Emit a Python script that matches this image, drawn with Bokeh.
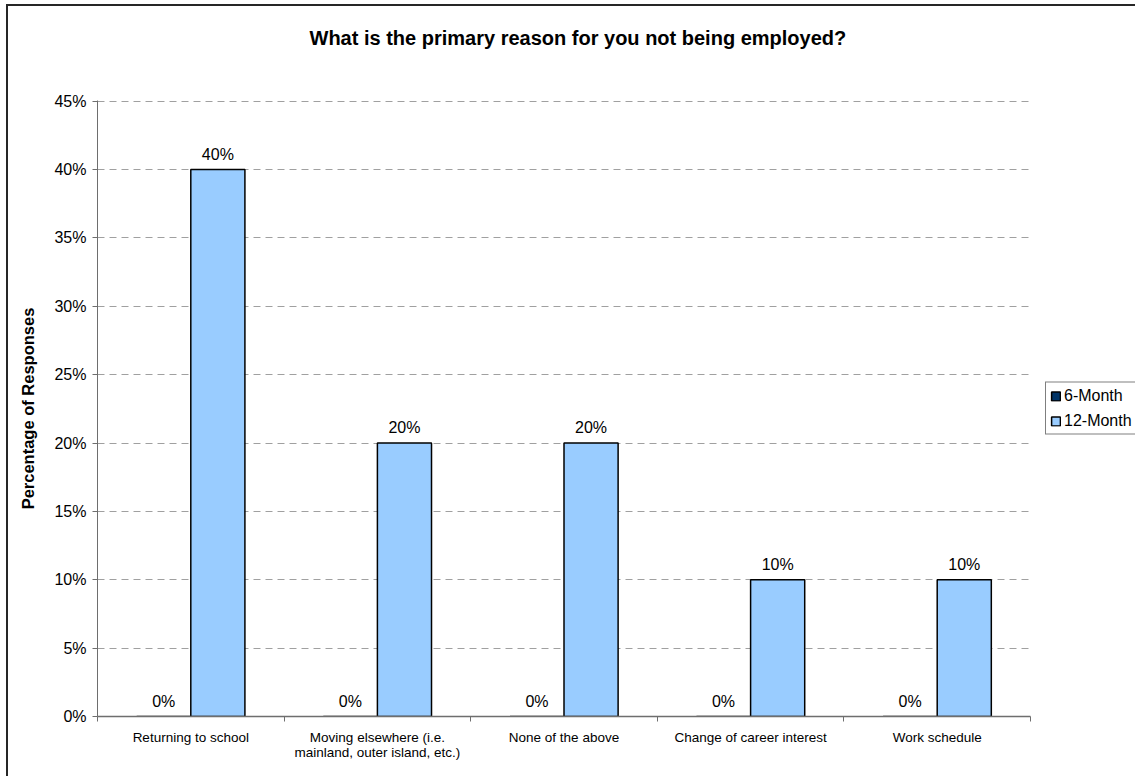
from bokeh.plotting import figure
from bokeh.models import (ColumnDataSource, FixedTicker, PrintfTickFormatter, Legend,
                          LegendItem, LabelSet, Range1d, LinearAxis)
from bokeh.core.properties import value
from bokeh.embed import file_html
from bokeh.resources import INLINE

# ---- data ----
title_text = "What is the primary reason for you not being employed?"
y_axis_label = "Percentage of Responses"
categories = [
    "Returning to school",
    "Moving elsewhere (i.e.\nmainland, outer island, etc.)",
    "None of the above",
    "Change of career interest",
    "Work schedule",
]
series_names = ["6-Month", "12-Month"]
six_month = [0, 0, 0, 0, 0]
twelve_month = [40, 20, 20, 10, 10]
y_ticks = [0, 5, 10, 15, 20, 25, 30, 35, 40, 45]
series_colors = ["#003366", "#99CCFF"]

FONT = "Liberation Sans"
BAR_W = 0.29
OFF = 0.145

centers = [i + 0.5 for i in range(len(categories))]
src6 = ColumnDataSource(dict(x=[c - OFF for c in centers], top=six_month,
                             label=[f"{v}%" for v in six_month]))
src12 = ColumnDataSource(dict(x=[c + OFF for c in centers], top=twelve_month,
                              label=[f"{v}%" for v in twelve_month]))

p = figure(frame_width=933, frame_height=616,
           x_range=Range1d(0, len(categories)), y_range=Range1d(0, y_ticks[-1] + 0.05),
           output_backend="svg", toolbar_location=None,
           min_border_left=89, min_border_right=105, min_border_top=94, min_border_bottom=60,
           title=title_text)
p.outline_line_color = None
p.background_fill_color = "white"
p.border_fill_color = "white"
p.styles = {"margin-left": "6px", "margin-top": "4px",
            "border-left": "2px solid #262626", "border-top": "2px solid #262626"}

xa = p.below[0]   # the category axis
ya = p.left[0]

# invisible spacer between the title and the plot area (one hidden, unlabeled tick)
spacer = LinearAxis(ticker=FixedTicker(ticks=[centers[2]]), major_tick_out=47, major_tick_in=0,
                    major_tick_line_color=None, minor_tick_out=0, minor_tick_in=0,
                    minor_tick_line_color=None, axis_line_color=None,
                    major_label_standoff=0, major_label_text_font_size="1px",
                    major_label_overrides={centers[2]: ""})
p.add_layout(spacer, "above")

p.title.align = "left"
p.title.offset = 212
p.title.vertical_align = "bottom"
p.title.standoff = 10
p.title.text_font = FONT
p.title.text_font_size = "20px"
p.title.text_font_style = "bold"
p.title.text_color = "black"

r6 = p.vbar(x="x", top="top", width=BAR_W, source=src6,
            fill_color=series_colors[0], line_color="black", line_width=1.5)
r12 = p.vbar(x="x", top="top", width=BAR_W, source=src12,
             fill_color=series_colors[1], line_color="black", line_width=1.5)

for src in (src6, src12):
    p.add_layout(LabelSet(x="x", y="top", text="label", source=src,
                          text_align="center", text_baseline="alphabetic",
                          y_offset=10, text_font=value(FONT), text_font_size=value("16px"),
                          text_color="black"))

# grid
p.xgrid.grid_line_color = None
p.ygrid.grid_line_color = "#a0a0a0"
p.ygrid.grid_line_dash = "7 5"
p.ygrid.grid_line_width = 1
p.ygrid.ticker = FixedTicker(ticks=y_ticks)

# y axis
ya.ticker = FixedTicker(ticks=y_ticks)
ya.formatter = PrintfTickFormatter(format="%d%%")
ya.axis_line_color = "#6e6e6e"
ya.major_tick_line_color = "#6e6e6e"
ya.major_tick_out = 5
ya.major_tick_in = 0
ya.minor_tick_line_color = None
ya.major_label_text_font = FONT
ya.major_label_text_font_size = "16px"
ya.major_label_text_color = "black"
ya.major_label_standoff = 6
ya.axis_label = y_axis_label
ya.axis_label_text_font = FONT
ya.axis_label_text_font_size = "16.5px"
ya.axis_label_text_font_style = "bold"
ya.axis_label_text_color = "black"
ya.axis_label_standoff = 14

# x axis
xa.ticker = FixedTicker(ticks=centers, minor_ticks=list(range(len(categories) + 1)))
xa.major_label_overrides = {c: cat for c, cat in zip(centers, categories)}
xa.axis_line_color = "#6e6e6e"
xa.axis_line_width = 1.5
xa.major_tick_line_color = None
xa.major_tick_out = 0
xa.major_tick_in = 0
xa.minor_tick_line_color = "#6e6e6e"
xa.minor_tick_out = 5
xa.minor_tick_in = 0
xa.major_label_text_font = FONT
xa.major_label_text_font_size = "13.5px"
xa.major_label_text_line_height = 1.0
xa.major_label_text_color = "black"
xa.major_label_standoff = 8

legend = Legend(items=[LegendItem(label=series_names[0], renderers=[r6]),
                       LegendItem(label=series_names[1], renderers=[r12])],
                location="left")
legend.border_line_color = "black"
legend.border_line_width = 1
legend.background_fill_color = "white"
legend.background_fill_alpha = 1
legend.label_text_font = FONT
legend.label_text_font_size = "16px"
legend.label_text_color = "black"
legend.glyph_width = 11
legend.glyph_height = 11
legend.label_standoff = 3
legend.padding = 4
legend.spacing = 7
legend.margin = 15
p.add_layout(legend, "right")

open("out.html", "w").write(file_html(p, INLINE))
